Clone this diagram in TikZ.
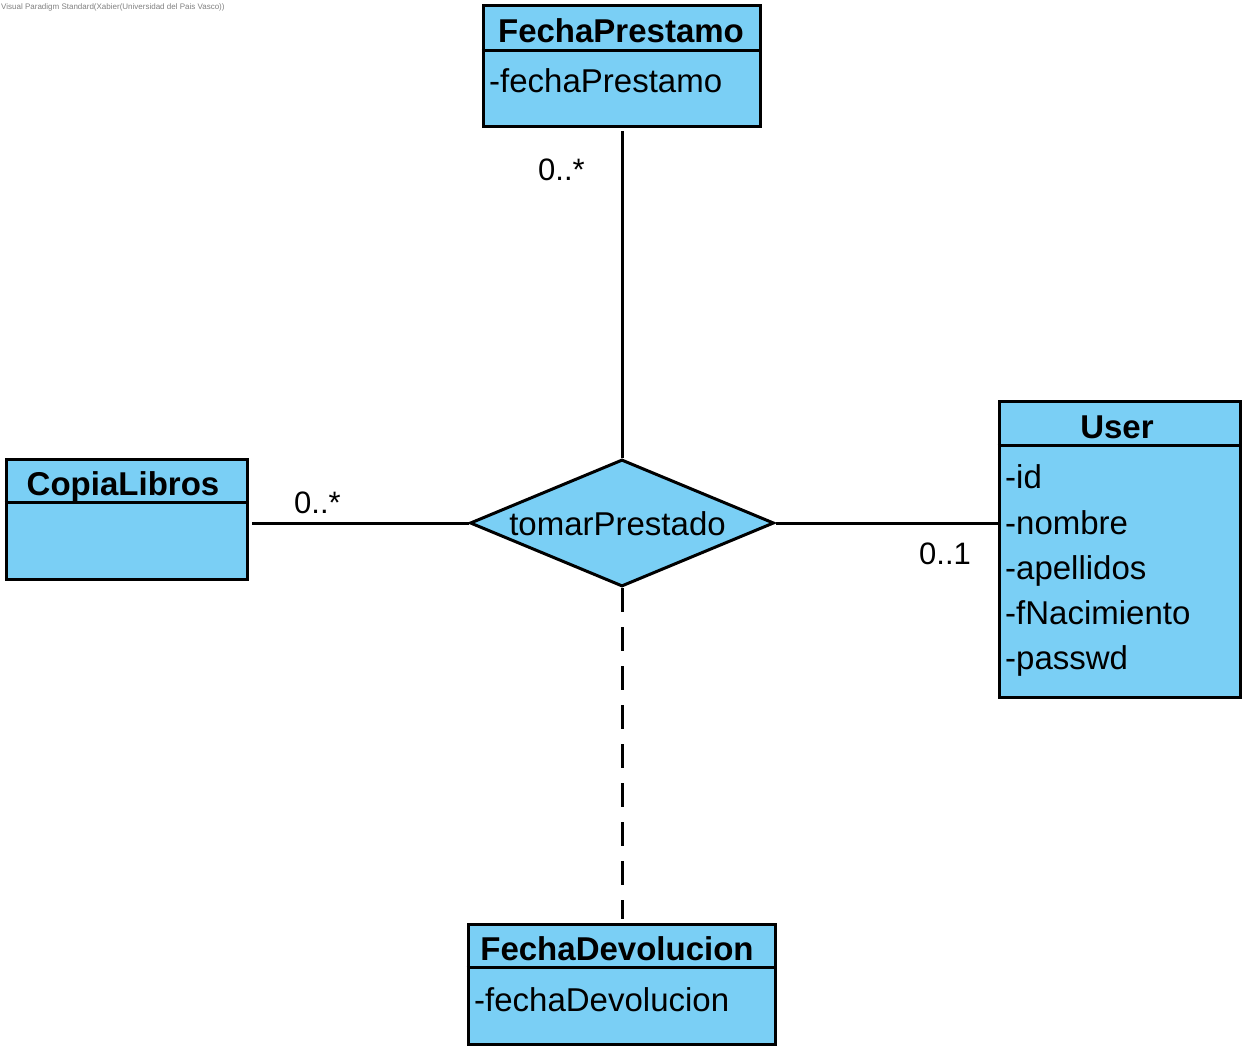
\documentclass[tikz,border=0pt]{standalone}
\usepackage{fontspec}
\setmainfont{Liberation Sans}
\usepackage{tikz}
\usetikzlibrary{shapes,positioning}

\definecolor{umlblue}{RGB}{122,207,245}

\tikzset{
  classbox/.style={draw, fill=umlblue, line width=3pt, inner sep=0pt},
  relbox/.style={diamond, draw, fill=umlblue, line width=3pt, inner sep=0pt, aspect=2.4,
    text height=24pt, text depth=0pt, font=\fontsize{33}{40}\selectfont},
  classtitle/.style={anchor=base, inner sep=0pt, font=\fontsize{33}{40}\selectfont\bfseries},
  attr/.style={anchor=base west, inner sep=0pt, font=\fontsize{33}{40}\selectfont},
  mult/.style={anchor=base west, inner sep=0pt, font=\fontsize{31}{38}\selectfont},
  umlline/.style={line width=3pt}
}

\begin{document}
\begin{tikzpicture}[x=1pt,y=-1pt]
\useasboundingbox (0,0) rectangle (1251,1056);

\node[anchor=base west, inner sep=0pt, text=gray, font=\fontsize{8}{9}\selectfont] at (1,10) (mark) {Visual Paradigm Standard(Xabier(Universidad del Pais Vasco))};

\node[classbox, minimum width=277, minimum height=121] at (621.5,66.5) (prestamo) {};
\node[classtitle] at (621,43) (prestamoT) {FechaPrestamo};
\node[attr] at (489,93) (prestamoA) {-fechaPrestamo};
\draw[line width=3pt] ([yshift=-46]prestamo.north west) -- ([yshift=-46]prestamo.north east);

\node[classbox, minimum width=241, minimum height=119] at (126.5,519.5) (copia) {};
\node[classtitle] at (123,496) (copiaT) {CopiaLibros};
\draw[line width=3pt] ([yshift=-44]copia.north west) -- ([yshift=-44]copia.north east);

\node[classbox, minimum width=241, minimum height=295] at (1119.5,549.5) (user) {};
\node[classtitle] at (1117,439) (userT) {User};
\draw[line width=3pt] ([yshift=-45]user.north west) -- ([yshift=-45]user.north east);
\node[attr] at (1005,489) (userA) {-id};
\node[attr] at (1005,534) (userB) {-nombre};
\node[attr] at (1005,579) (userC) {-apellidos};
\node[attr] at (1005,624) (userD) {-fNacimiento};
\node[attr] at (1005,669) (userE) {-passwd};

\node[classbox, minimum width=307, minimum height=120] at (621.5,984) (devol) {};
\node[classtitle] at (617,960) (devolT) {FechaDevolucion};
\node[attr] at (474,1011) (devolA) {-fechaDevolucion};
\draw[line width=3pt] ([yshift=-45]devol.north west) -- ([yshift=-45]devol.north east);

\node[relbox, minimum width=304, minimum height=127] at (622,523) (rel) {\hbox{tomarPrestado\kern9pt}};

\draw[umlline, shorten >=3pt] (rel.north) -- (rel.north |- prestamo.south);
\draw[umlline, shorten >=3pt] (rel.west) -- (rel.west -| copia.east);
\draw[umlline] (rel.east) -- (rel.east -| user.west);
\draw[umlline, dash pattern=on 24pt off 15pt, shorten >=4pt] (rel.south) -- (rel.south |- devol.north);

\node[mult] at (538,181) (multP) {0..*};
\node[mult] at (294,513) (multC) {0..*};
\node[mult] at (919,564) (multU) {0..1};

\end{tikzpicture}
\end{document}
